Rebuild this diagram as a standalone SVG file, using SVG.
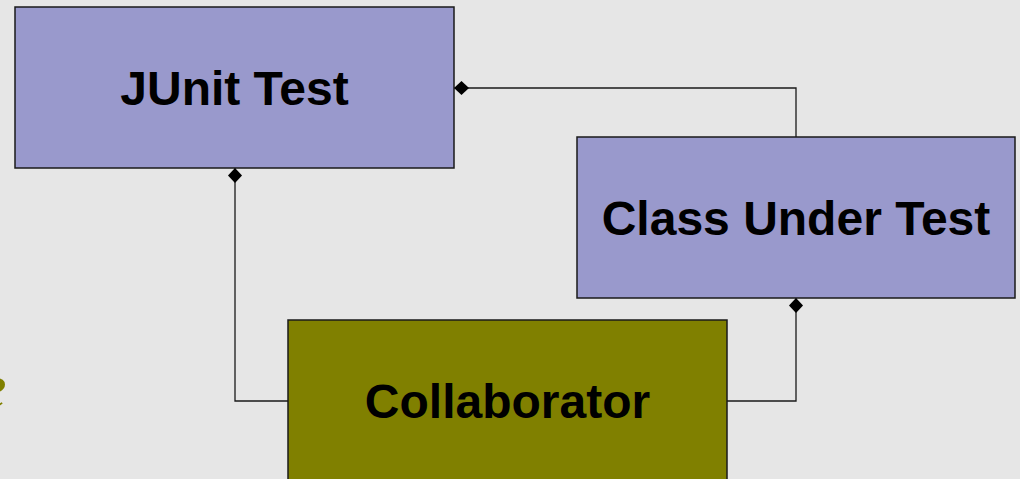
<svg xmlns="http://www.w3.org/2000/svg" width="1020" height="479" viewBox="0 0 1020 479">
  <defs>
    <!-- filled diamond (composition end), tip placed on the line's end point -->
    <marker id="diamond" viewBox="0 0 15 14" refX="15" refY="7" markerWidth="15" markerHeight="14" markerUnits="userSpaceOnUse" orient="auto">
      <path d="M0,7 L7.5,0 L15,7 L7.5,14 Z" fill="#000"/>
    </marker>
  </defs>
  <style>
    .cls { fill: #9999cc; stroke: #1a1a1a; stroke-width: 1.5; }
    .collab { fill: #808000; stroke: #1a1a1a; stroke-width: 1.5; }
    .label { font-family: "Liberation Sans", Arial, sans-serif; font-weight: bold; font-size: 48px; fill: #000; text-anchor: middle; }
    .link { fill: none; stroke: #1a1a1a; stroke-width: 1.3; }
  </style>
  <rect width="1020" height="479" fill="#e6e6e6"/>
  <text x="-22" y="408" font-family="Liberation Serif, serif" font-style="italic" font-size="64" fill="#808000">e</text>

  <g id="connectors">
    <path class="link" d="M796,137 V88 H454" marker-end="url(#diamond)"/>
    <path class="link" d="M288,401 H235 V168" marker-end="url(#diamond)"/>
    <path class="link" d="M727,401 H796 V298" marker-end="url(#diamond)"/>
  </g>

  <g id="junit-test">
    <rect class="cls" x="15" y="7" width="439" height="161"/>
    <text class="label" x="234.5" y="105">JUnit Test</text>
  </g>
  <g id="class-under-test">
    <rect class="cls" x="577" y="137" width="438" height="161"/>
    <text class="label" x="796" y="235">Class Under Test</text>
  </g>
  <g id="collaborator">
    <rect class="collab" x="288" y="320" width="439" height="170"/>
    <text class="label" x="507.5" y="418">Collaborator</text>
  </g>
</svg>
